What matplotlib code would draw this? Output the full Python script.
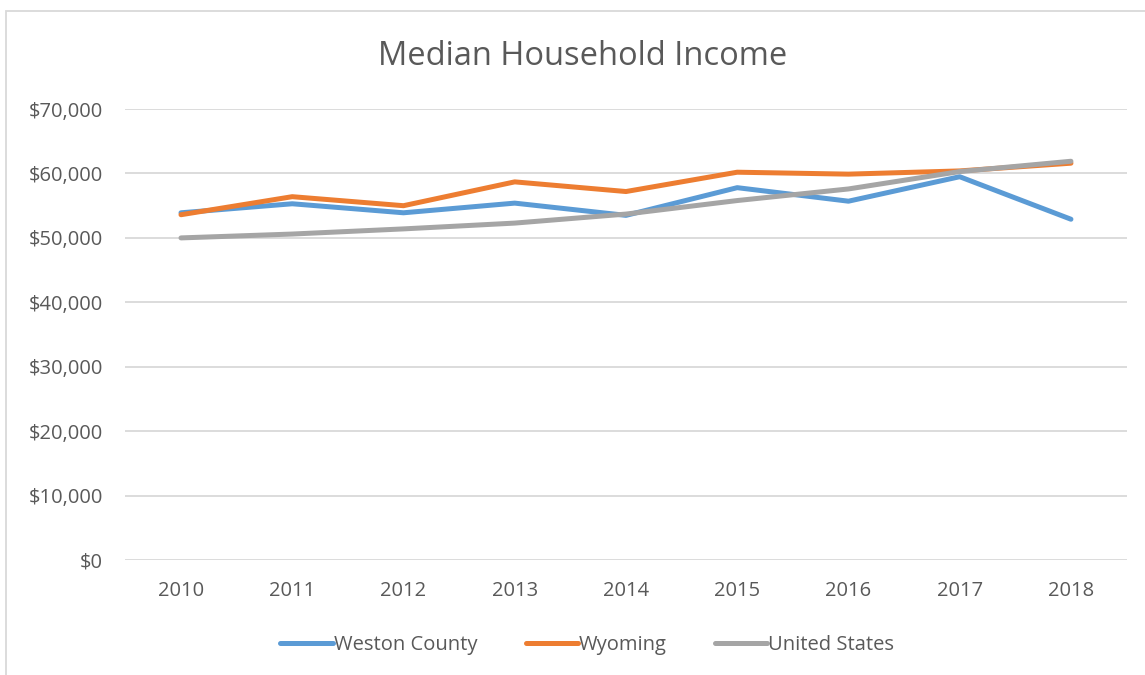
import matplotlib.pyplot as plt
from matplotlib.patches import Rectangle
from matplotlib.ticker import FuncFormatter

plt.rcParams['font.family'] = ['Open Sans', 'DejaVu Sans']

years = ['2010', '2011', '2012', '2013', '2014', '2015', '2016', '2017', '2018']
weston = [53900, 55300, 53900, 55400, 53500, 57800, 55700, 59500, 52900]
wyoming = [53600, 56400, 55000, 58700, 57200, 60200, 59900, 60400, 61600]
united_states = [50000, 50600, 51400, 52300, 53700, 55800, 57600, 60300, 61900]

series = [
    ('Weston County', weston, '#5B9BD5'),
    ('Wyoming', wyoming, '#ED7D31'),
    ('United States', united_states, '#A5A5A5'),
]

fig = plt.figure(figsize=(11.45, 6.75), dpi=100)
ax = fig.add_axes([0.1095, 0.1704, 0.8744, 0.668])

x = range(len(years))
for name, vals, col in series:
    ax.plot(x, vals, color=col, linewidth=3.6, label=name,
            solid_capstyle='round', solid_joinstyle='round')

ax.set_xlim(-0.5, len(years) - 0.5)
ax.set_ylim(0, 70000)
ax.set_yticks(range(0, 70001, 10000))
ax.yaxis.set_major_formatter(FuncFormatter(lambda v, p: '${:,.0f}'.format(v)))
ax.set_xticks(list(x))
ax.set_xticklabels(years)

ax.grid(axis='y', color='#D9D9D9', linewidth=1.3)
ax.set_axisbelow(True)
for s in ax.spines.values():
    s.set_visible(False)
ax.tick_params(length=0, labelsize=14.5, colors='#595959')
ax.tick_params(axis='x', pad=15)
ax.tick_params(axis='y', pad=16)

fig.text(0.509, 0.917, 'Median Household Income', ha='center', va='center',
         fontsize=23.5, color='#595959')

leg = fig.legend(loc='center', bbox_to_anchor=(0.513, 0.045), ncol=3, frameon=False,
                 fontsize=14.5, handlelength=2.6, handletextpad=0.05, columnspacing=2.4,
                 labelcolor='#595959')

fig.patches.append(Rectangle((6 / 1145, -0.1), 1.2, 0.9837 + 0.1, transform=fig.transFigure,
                             fill=False, edgecolor='#D9D9D9', linewidth=1.3))

fig.savefig('out.png', dpi=100)
